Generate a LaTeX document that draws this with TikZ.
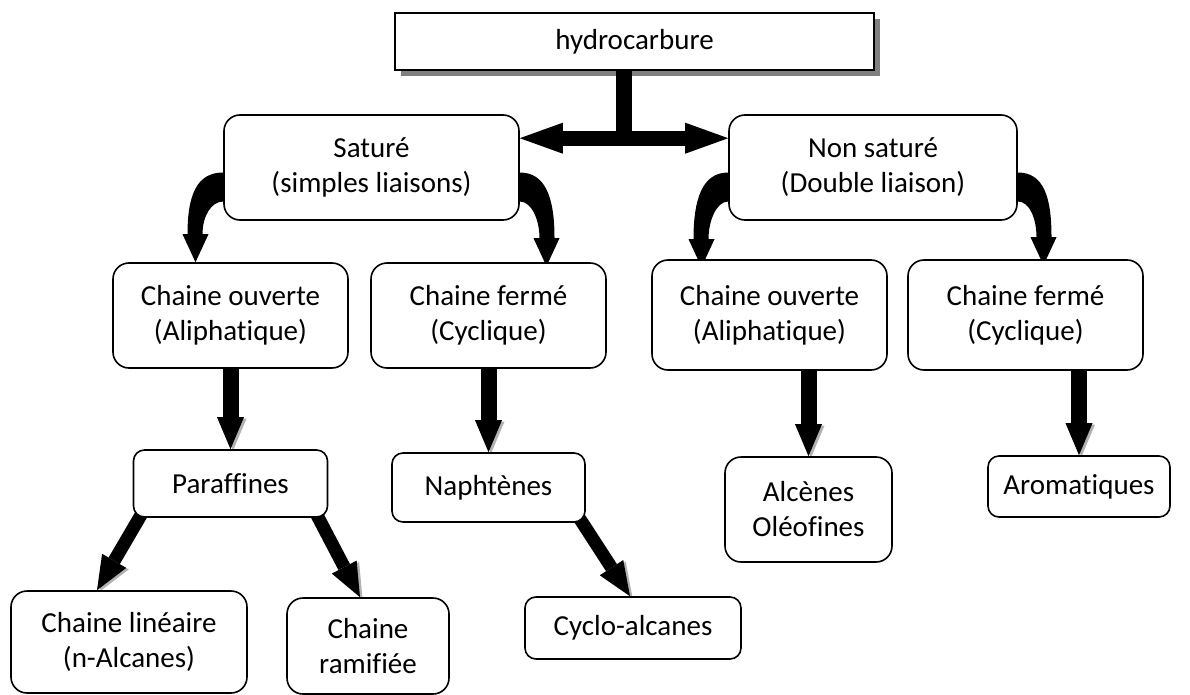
\documentclass[tikz,border=0pt]{standalone}
\usepackage{fontspec}
\setmainfont{Carlito}[Ligatures=NoCommon]
\usetikzlibrary{arrows.meta,calc,shadows,backgrounds}

% bent arrow from the side of a box down to a tip: #1 side anchor, #2 tip, #3 -1 left / 1 right
\newcommand{\bentarrow}[3]{%
  \fill ($(#1)+(0,5)$) .. controls +({#3*26},0) and +(0,-40) .. ($(#2)+({#3*8},-28)$)
    -- ($(#2)+({#3*13},-28)$) -- (#2) -- ($(#2)+({-1*(#3)*13},-28)$)
    -- ($(#2)+({-1*(#3)*7},-28)$) .. controls +(0,-18) and +({#3*12},0) .. ($(#1)+(0,34)$) -- cycle;}

\begin{document}
\begin{tikzpicture}[x=1pt,y=-1pt,
    box/.style={draw,fill=white,line width=1.6pt,rounded corners=16pt,align=center,
      inner sep=0pt,font=\fontsize{29}{35}\selectfont},
    fat/.style={line width=16pt,-{Triangle[width=27pt,length=32pt,line width=0pt]},
      preaction={draw=black!30,transform canvas={shift={(2.5pt,-1.5pt)}}}},
    slantfat/.style={fat,line width=13pt,-{Triangle[width=28pt,length=34pt,line width=0pt]}}]
  \useasboundingbox (0,0) rectangle (1190,695);

  % top
  \node[box,sharp corners,line width=2pt,minimum width=479pt,minimum height=57pt,
    drop shadow={shadow xshift=6pt,shadow yshift=-6pt,fill=black!50,opacity=1}]
    (hydro) at (634.5,41.5) {hydrocarbure};
  \node[box,minimum width=295pt,minimum height=105pt] (sat) at (371.5,167.5) {Saturé\\(simples liaisons)};
  \node[box,minimum width=288pt,minimum height=105pt] (nonsat) at (873,167.5) {Non saturé\\(Double liaison)};

  % chaines
  \node[box,minimum width=235pt,minimum height=105pt] (ouvS) at (230.5,315.5) {Chaine ouverte\\(Aliphatique)};
  \node[box,minimum width=235pt,minimum height=105pt] (fermS) at (488.5,315.5) {Chaine fermé\\(Cyclique)};
  \node[box,minimum width=235pt,minimum height=110pt] (ouvN) at (769.5,315) {Chaine ouverte\\(Aliphatique)};
  \node[box,minimum width=235pt,minimum height=110pt] (fermN) at (1025.5,315) {Chaine fermé\\(Cyclique)};

  % familles
  \node[box,rounded corners=11pt,minimum width=194pt,minimum height=67pt] (paraf) at (230.5,483.5) {Paraffines};
  \node[box,rounded corners=11pt,minimum width=193pt,minimum height=69pt] (napht) at (488.5,487.5) {Naphtènes};
  \node[box,minimum width=167pt,minimum height=105pt] (alcen) at (808.5,509.5) {Alcènes\\Oléofines};
  \node[box,rounded corners=11pt,minimum width=182pt,minimum height=61pt] (arom) at (1079,486.5) {Aromatiques};

  % bas
  \node[box,minimum width=236pt,minimum height=102pt] (lin) at (129,642) {Chaine linéaire\\(n-Alcanes)};
  \node[box,minimum width=162pt,minimum height=96pt] (ramif) at (368,646) {Chaine\\ramifiée};
  \node[box,rounded corners=11pt,minimum width=216pt,minimum height=62pt] (cyclo) at (633,628) {Cyclo-alcanes};

  % double fleche
  \coordinate (fork) at ($(sat.north east)!.5!(nonsat.north west)+(0,24)$);
  \draw[line width=16pt] (hydro.south -| fork) -- (fork);
  \draw[line width=15pt,{Triangle[width=31pt,length=43pt,line width=0pt]}-{Triangle[width=31pt,length=43pt,line width=0pt]}]
    ($(sat.north east)+(0,24)$) -- ($(nonsat.north west)+(0,24)$);

  \coordinate (t1) at ($(ouvS.north)+(-35,0)$);
  \coordinate (t2) at ($(fermS.north)+(58,4)$);
  \coordinate (t3) at ($(ouvN.north)+(-68,8)$);
  \coordinate (t4) at ($(fermN.north)+(18,6)$);

  \begin{scope}[on background layer]
    \bentarrow{sat.west}{t1}{-1}
    \bentarrow{sat.east}{t2}{1}
    \bentarrow{nonsat.west}{t3}{-1}
    \bentarrow{nonsat.east}{t4}{1}
    \draw[fat] (ouvS.south) -- (paraf.north);
    \draw[fat] (fermS.south) -- (napht.north);
    \draw[fat] (alcen.north |- ouvN.south) -- (alcen.north);
    \draw[fat] (arom.north |- fermN.south) -- (arom.north);
    \draw[slantfat] ($(paraf.south west)+(9,-4)$) -- ($(lin.north)+(-32,0)$);
    \draw[slantfat] ($(paraf.south east)+(-12,-4)$) -- ($(ramif.north)+(-8,0)$);
    \draw[slantfat] ($(napht.south east)+(-6,-4)$) -- ($(cyclo.north)+(-3,0)$);
  \end{scope}
\end{tikzpicture}
\end{document}
